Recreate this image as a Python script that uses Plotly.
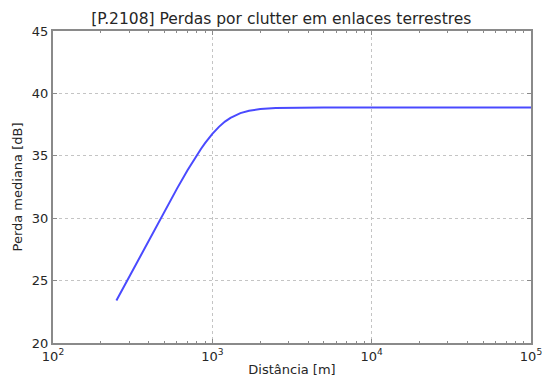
import plotly.graph_objects as go

# Data
distance_m = [250, 300, 350, 400, 500, 600, 700, 750, 800, 850, 900, 950, 1000,
              1100, 1200, 1300, 1400, 1500, 1700, 1800, 2000, 2500, 3000, 5000,
              10000, 30000, 100000]
loss_db = [23.40, 25.29, 26.88, 28.26, 30.54, 32.37, 33.86, 34.49, 35.06, 35.57,
           36.02, 36.41, 36.76, 37.32, 37.74, 38.04, 38.26, 38.42, 38.61, 38.67,
           38.75, 38.84, 38.86, 38.88, 38.88, 38.88, 38.88]

x_tickvals = [100, 1000, 10000, 100000]
x_ticktext = ["10<sup>2</sup>", "10<sup>3</sup>", "10<sup>4</sup>", "10<sup>5</sup>"]
y_tickvals = [20, 25, 30, 35, 40, 45]

font = "DejaVu Sans, sans-serif"
frame = "#8a8a8a"
txt = "#262626"

fig = go.Figure()
fig.add_trace(go.Scatter(
    x=distance_m, y=loss_db, mode="lines",
    line=dict(color="#4a4aff", width=2),
    showlegend=False,
))

fig.update_layout(
    width=543, height=383,
    margin=dict(l=53, r=12, t=31, b=40, autoexpand=False),
    paper_bgcolor="white", plot_bgcolor="white",
    font=dict(family=font, size=13, color=txt),
    title=dict(text="[P.2108] Perdas por clutter em enlaces terrestres",
               x=0.518, xanchor="center", y=0.952, yanchor="middle",
               font=dict(family=font, size=15.5, color=txt)),
)

fig.update_xaxes(
    type="log", range=[2, 5], automargin=False,
    tickvals=x_tickvals, ticktext=x_ticktext,
    ticks="inside", ticklen=4, tickcolor=frame,
    minor=dict(ticks="inside", ticklen=2, tickcolor=frame, dtick="D1", showgrid=False),
    showgrid=True, gridcolor="#c4c4c4", griddash="dot", gridwidth=1,
    showline=True, linecolor=frame, linewidth=2, mirror="allticks",
    zeroline=False,
    title=dict(text="Distância [m]", standoff=2, font=dict(family=font, size=13)),
    tickfont=dict(family=font, size=13, color=txt),
)
fig.update_yaxes(
    range=[20, 45], tickvals=y_tickvals, automargin=False,
    ticks="inside", ticklen=4, tickcolor=frame,
    showgrid=True, gridcolor="#c4c4c4", griddash="dot", gridwidth=1,
    showline=True, linecolor=frame, linewidth=2, mirror="allticks",
    zeroline=False,
    title=dict(text="Perda mediana [dB]", standoff=6, font=dict(family=font, size=13)),
    tickfont=dict(family=font, size=13, color=txt),
)

fig.write_html("out.html")
